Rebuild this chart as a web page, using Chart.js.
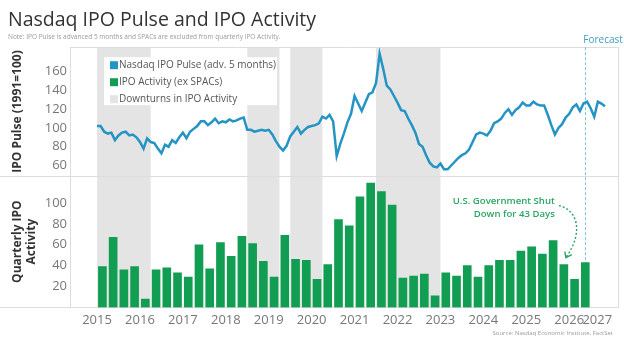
<!DOCTYPE html>
<html>
<head>
<meta charset="utf-8">
<script src="https://cdn.jsdelivr.net/npm/chart.js@4.4.0/dist/chart.umd.min.js"></script>
<style>
  html, body { margin: 0; padding: 0; background: #fff; }
  #wrap { width: 624px; height: 351px; }
</style>
</head>
<body>
<div id="wrap"><canvas id="ipo" width="624" height="351"></canvas></div>
<script>
// quarterly IPO counts (ex SPACs)
var quarters = [
  '2015 Q1', '2015 Q2', '2015 Q3', '2015 Q4',
  '2016 Q1', '2016 Q2', '2016 Q3', '2016 Q4',
  '2017 Q1', '2017 Q2', '2017 Q3', '2017 Q4',
  '2018 Q1', '2018 Q2', '2018 Q3', '2018 Q4',
  '2019 Q1', '2019 Q2', '2019 Q3', '2019 Q4',
  '2020 Q1', '2020 Q2', '2020 Q3', '2020 Q4',
  '2021 Q1', '2021 Q2', '2021 Q3', '2021 Q4',
  '2022 Q1', '2022 Q2', '2022 Q3', '2022 Q4',
  '2023 Q1', '2023 Q2', '2023 Q3', '2023 Q4',
  '2024 Q1', '2024 Q2', '2024 Q3', '2024 Q4',
  '2025 Q1', '2025 Q2', '2025 Q3', '2025 Q4',
  '2026 Q1', '2026 Q2'
];
var ipoCounts = [
  39, 67, 36, 39,
  8, 36, 38, 33,
  29, 60, 37, 62,
  49, 68, 61, 44,
  29, 69, 46, 45,
  27, 41, 84, 78,
  106, 119, 111, 98,
  28, 30, 32, 11,
  33, 30, 40, 29,
  40, 45, 45, 54,
  58, 51, 64, 41,
  27, 43
];

// Nasdaq IPO Pulse, monthly from Jan 2015 (already advanced 5 months)
var pulseStart = 2015;
var pulseValues = [
  102, 102, 96, 94, 95, 87, 92, 95, 96, 92, 93, 90,
  85, 78, 89, 85, 84, 78, 73, 82, 80, 87, 84, 90,
  95, 89, 96, 99, 102, 107, 107, 103, 106, 110, 105, 107,
  106, 109, 107, 108, 110, 111, 98, 98, 96, 97, 98, 97,
  98, 93, 86, 80, 76, 81, 91, 96, 101, 94, 98, 101,
  102, 103, 105, 112, 110, 114, 107, 70, 83, 94, 106, 115,
  134, 126, 118, 127, 136, 138, 148, 179, 163, 145, 141, 134,
  127, 119, 118, 110, 103, 95, 83, 80, 71, 63, 59, 58,
  62, 56, 56, 60, 64, 68, 71, 73, 77, 85, 93, 95,
  94, 92, 97, 105, 107, 110, 116, 120, 114, 119, 122, 127,
  124, 124, 128, 125, 124, 124, 114, 103, 93, 100, 104, 111,
  115, 122, 125, 118, 126, 128, 121, 112, 128, 126, 123
];

// downturns in IPO activity (start, end as decimal years)
var downturns = [[2015.0, 2016.25], [2018.5, 2019.25], [2019.5, 2020.25], [2021.5, 2023.0]];
var forecastAt = 2026.375;
var shutdownQuarter = '2025 Q4';

var yearTicks = [2015, 2016, 2017, 2018, 2019, 2020, 2021, 2022, 2023, 2024, 2025, 2026, 2027];
var pulseTicks = [60, 80, 100, 120, 140, 160];
var ipoTicks = [20, 40, 60, 80, 100];

var BLUE = '#2394c4';
var GREEN = '#119e52';
var BAND = '#e4e4e4';

function quarterToYear(q) {
  return Number(q.slice(0, 4)) + (Number(q.slice(-1)) - 0.5) / 4;
}

var ipoPoints = quarters.map(function (q, i) {
  return { x: quarterToYear(q), y: ipoCounts[i] };
});
var pulsePoints = pulseValues.map(function (v, i) {
  return { x: pulseStart + i / 12, y: v };
});

Chart.defaults.font.family = "'Open Sans', sans-serif";

var panelPlugin = {
  id: 'panels',
  beforeDatasetsDraw: function (chart) {
    var ctx = chart.ctx, a = chart.chartArea, x = chart.scales.x;
    var top = chart.scales.yPulse;
    ctx.save();
    ctx.fillStyle = BAND;
    downturns.forEach(function (d) {
      var x0 = x.getPixelForValue(d[0]), x1 = x.getPixelForValue(d[1]);
      ctx.fillRect(x0, a.top, x1 - x0, a.bottom - a.top);
    });
    ctx.strokeStyle = '#dddddd';
    ctx.lineWidth = 1;
    ctx.beginPath();
    ctx.moveTo(a.left, Math.round(a.top) + 0.5);
    ctx.lineTo(a.right, Math.round(a.top) + 0.5);
    ctx.moveTo(0, Math.round(top.bottom) + 0.5);
    ctx.lineTo(a.right, Math.round(top.bottom) + 0.5);
    ctx.moveTo(0, Math.round(a.bottom) + 0.5);
    ctx.lineTo(a.right, Math.round(a.bottom) + 0.5);
    ctx.moveTo(Math.round(a.right) - 0.5, a.top);
    ctx.lineTo(Math.round(a.right) - 0.5, a.bottom);
    ctx.stroke();
    var fx = Math.round(x.getPixelForValue(forecastAt)) + 0.5;
    ctx.setLineDash([3, 2]);
    ctx.strokeStyle = '#7cc3da';
    ctx.beginPath();
    ctx.moveTo(fx, a.top);
    ctx.lineTo(fx, a.bottom);
    ctx.stroke();
    ctx.restore();
  },
  afterDraw: function (chart) {
    var ctx = chart.ctx, a = chart.chartArea, x = chart.scales.x;
    var bot = chart.scales.yIpo;
    ctx.save();

    // legend
    var lx = a.left + 34, ly = a.top + 10;
    ctx.fillStyle = '#ffffff';
    ctx.fillRect(lx, ly, 173, 48);
    var items = [
      ['Nasdaq IPO Pulse (adv. 5 months)', BLUE],
      ['IPO Activity (ex SPACs)', GREEN],
      ['Downturns in IPO Activity', BAND]
    ];
    ctx.font = "10px 'Open Sans', sans-serif";
    ctx.textBaseline = 'middle';
    ctx.textAlign = 'left';
    items.forEach(function (it, i) {
      var cy = ly + 8 + i * 17;
      ctx.fillStyle = it[1];
      ctx.fillRect(lx + 6, cy - 4, 8, 8);
      ctx.fillStyle = '#555555';
      ctx.fillText(it[0], lx + 15, cy);
    });

    // forecast label
    var fx = x.getPixelForValue(forecastAt);
    ctx.fillStyle = '#3c9dc2';
    ctx.font = "10px 'Open Sans', sans-serif";
    ctx.fillText('Forecast', fx - 2, a.top - 7);

    // shutdown annotation
    var qi = quarters.indexOf(shutdownQuarter);
    var tipX = x.getPixelForValue(quarterToYear(shutdownQuarter)) + 2;
    var tipY = bot.getPixelForValue(ipoCounts[qi]) - 7;
    ctx.fillStyle = '#2aa563';
    ctx.font = "600 9.6px 'Open Sans', sans-serif";
    ctx.textAlign = 'right';
    ctx.fillText('U.S. Government Shut', tipX - 11, tipY - 56);
    ctx.fillText('Down for 43 Days', tipX - 11, tipY - 43);
    ctx.strokeStyle = '#2aa563';
    ctx.lineWidth = 1.4;
    ctx.setLineDash([2, 2]);
    ctx.beginPath();
    ctx.moveTo(tipX - 7, tipY - 52);
    ctx.bezierCurveTo(tipX + 12, tipY - 48, tipX + 18, tipY - 25, tipX, tipY);
    ctx.stroke();
    ctx.setLineDash([]);
    ctx.beginPath();
    ctx.moveTo(tipX - 1, tipY - 6);
    ctx.lineTo(tipX, tipY);
    ctx.lineTo(tipX + 6, tipY - 3);
    ctx.stroke();

    // source
    ctx.fillStyle = '#9a9a9a';
    ctx.font = "6px 'Open Sans', sans-serif";
    ctx.textAlign = 'right';
    ctx.fillText('Source: Nasdaq Economic Institute, FactSet', a.right - 6, a.bottom + 26);
    ctx.restore();
  }
};

var ctx = document.getElementById('ipo').getContext('2d');
var myChart = new Chart(ctx, {
  type: 'bar',
  data: {
    datasets: [{
      type: 'line',
      label: 'Nasdaq IPO Pulse (adv. 5 months)',
      data: pulsePoints,
      yAxisID: 'yPulse',
      borderColor: BLUE,
      borderWidth: 2.5,
      pointRadius: 0,
      tension: 0
    }, {
      type: 'bar',
      label: 'IPO Activity (ex SPACs)',
      data: ipoPoints,
      yAxisID: 'yIpo',
      backgroundColor: GREEN,
      barThickness: 8
    }]
  },
  options: {
    responsive: false,
    animation: false,
    layout: { padding: { left: 8, right: 5, top: 0, bottom: 18 } },
    plugins: {
      legend: { display: false },
      tooltip: { enabled: false },
      title: {
        display: true,
        text: 'Nasdaq IPO Pulse and IPO Activity',
        align: 'start',
        color: '#333333',
        font: { size: 19.5, weight: 'normal' },
        padding: { top: 9, bottom: 0 }
      },
      subtitle: {
        display: true,
        text: 'Note: IPO Pulse is advanced 5 months and SPACs are excluded from quarterly IPO Activity.',
        align: 'start',
        color: '#999999',
        font: { size: 6.5 },
        padding: { top: 1, bottom: 6 }
      }
    },
    scales: {
      x: {
        type: 'linear',
        min: 2014.37,
        max: 2027.16,
        offset: false,
        grid: { display: false, drawTicks: false },
        border: { display: false },
        afterBuildTicks: function (s) {
          s.ticks = [{ value: s.min }].concat(yearTicks.map(function (v) { return { value: v }; }));
        },
        ticks: {
          align: 'inner',
          autoSkip: false,
          maxRotation: 0,
          padding: 5,
          color: '#777777',
          font: { size: 13 },
          callback: function (v) { return yearTicks.indexOf(v) >= 0 ? String(v) : ''; }
        }
      },
      yIpo: {
        type: 'linear',
        position: 'left',
        stack: 'panels',
        stackWeight: 134,
        min: 0,
        max: 126,
        afterFit: function (s) { s.width = 62; },
        afterBuildTicks: function (s) {
          s.ticks = ipoTicks.map(function (v) { return { value: v }; });
        },
        grid: { display: false, drawTicks: false },
        border: { display: true, color: '#dddddd' },
        ticks: { autoSkip: false, padding: 3, color: '#777777', font: { size: 13 } },
        title: {
          display: true,
          text: ['Quarterly IPO', 'Activity'],
          color: '#333333',
          font: { size: 12, weight: 'bold' },
          padding: { top: 2, bottom: 0 }
        }
      },
      yPulse: {
        type: 'linear',
        position: 'left',
        stack: 'panels',
        stackWeight: 131,
        min: 49,
        max: 186,
        afterFit: function (s) { s.width = 62; },
        afterBuildTicks: function (s) {
          s.ticks = pulseTicks.map(function (v) { return { value: v }; });
        },
        grid: { display: false, drawTicks: false },
        border: { display: true, color: '#dddddd' },
        ticks: { autoSkip: false, padding: 3, color: '#777777', font: { size: 13 } },
        title: {
          display: true,
          text: 'IPO Pulse (1991=100)',
          color: '#333333',
          font: { size: 12, weight: 'bold' },
          padding: { top: 2, bottom: 0 }
        }
      }
    }
  },
  plugins: [panelPlugin]
});
</script>
</body>
</html>
